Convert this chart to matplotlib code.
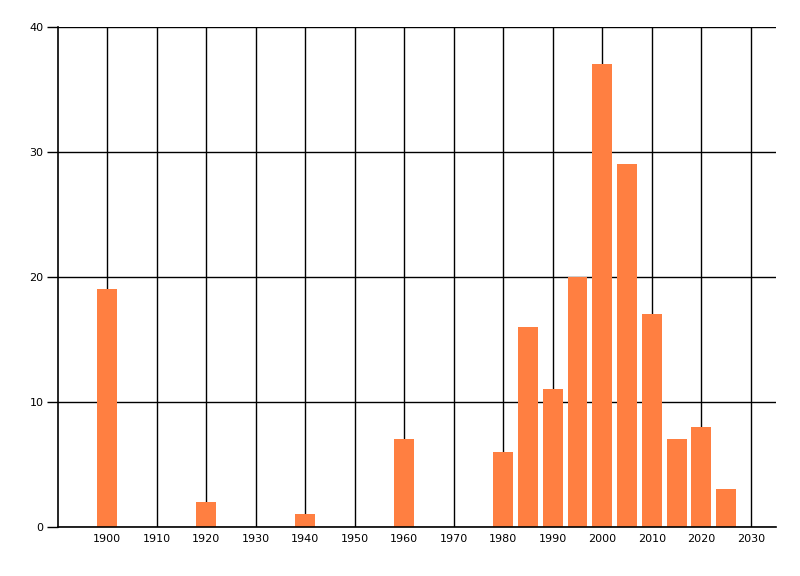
import matplotlib
matplotlib.use("Agg")
import matplotlib.pyplot as plt

years = [1900, 1920, 1940, 1960, 1980, 1985, 1990, 1995, 2000, 2005, 2010, 2015, 2020, 2025]
counts = [19, 2, 1, 7, 6, 16, 11, 20, 37, 29, 17, 7, 8, 3]
x_ticks = list(range(1900, 2031, 10))
y_ticks = [0, 10, 20, 30, 40]

plt.rcParams['font.family'] = ['DejaVu Sans']

fig = plt.figure(figsize=(8, 5.76), dpi=100)
ax = fig.add_axes([0.0719, 0.0851, 0.8977, 0.8681])

ax.bar(years, counts, width=4, color='#FF7F41', zorder=2)

ax.set_xlim(1890, 2035)
ax.set_ylim(0, 40)
ax.set_xticks(x_ticks)
ax.set_yticks(y_ticks)
ax.grid(True, color='black', linewidth=1, zorder=0)
ax.set_axisbelow(True)

for side in ['top', 'right']:
    ax.spines[side].set_visible(False)
for side in ['left', 'bottom']:
    ax.spines[side].set_linewidth(1.2)

ax.tick_params(axis='x', length=0, pad=5, labelsize=8)
ax.tick_params(axis='y', length=8, width=1, pad=2, labelsize=8)

fig.savefig('out.png', dpi=100)
